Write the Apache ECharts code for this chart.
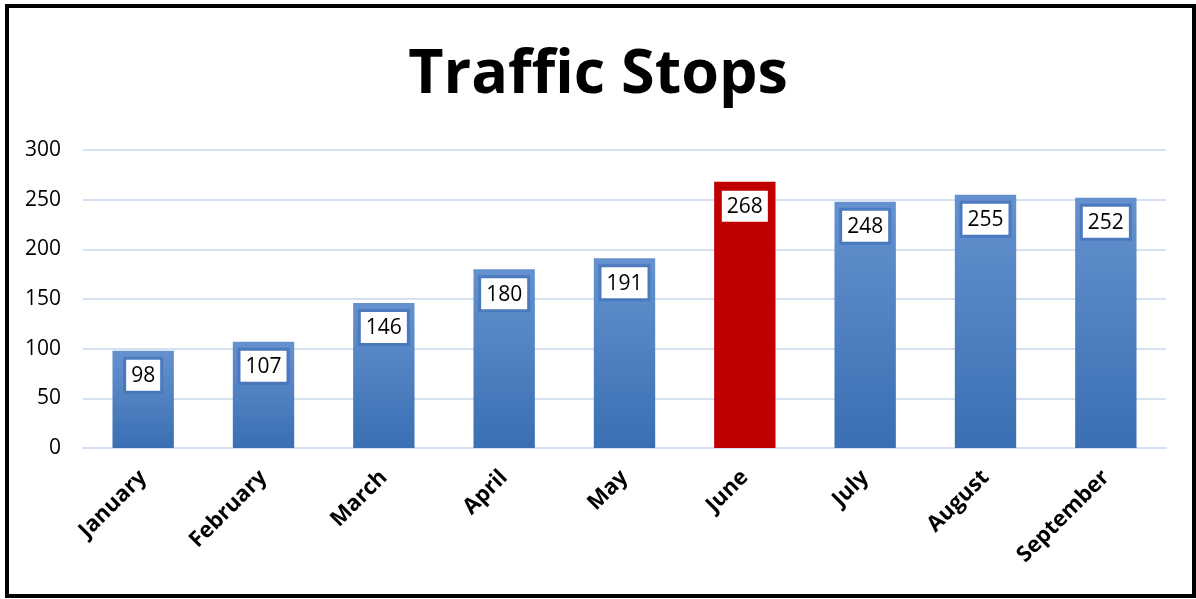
<!DOCTYPE html>
<html>
<head>
<meta charset="utf-8">
<script src="https://cdn.jsdelivr.net/npm/echarts@6/dist/echarts.min.js"></script>
<style>
html,body{margin:0;padding:0;background:#fff;}
#main{width:1196px;height:599px;}
</style>
</head>
<body>
<div id="main"></div>
<script>
var months = ['January','February','March','April','May','June','July','August','September'];
var stops = [98,107,146,180,191,268,248,255,252];
var highlightMonth = 'June';
var yTicks = [0,50,100,150,200,250,300];

var blueFill = new echarts.graphic.LinearGradient(0,0,0,1,[
    {offset:0,color:'#6592cf'},
    {offset:1,color:'#3a6fb3'}
]);

var barData = [];
for(var i=0;i<stops.length;i++){
    var item = {value:stops[i]};
    if(months[i]==highlightMonth){
        item.itemStyle = {color:'#c00000'};
        item.label = {borderWidth:0};
    }
    barData.push(item);
}

var myChart = echarts.init(document.getElementById('main'));
var option = {
    animation:false,
    title:{
        text:'Traffic Stops',
        left:'center',
        top:40,
        textStyle:{fontFamily:'Open Sans',fontWeight:'bold',fontSize:61,color:'#000'}
    },
    graphic:[{
        type:'rect',
        shape:{x:7,y:6,width:1187,height:590},
        style:{fill:'none',stroke:'#000',lineWidth:4},
        silent:true
    }],
    grid:{left:83,right:30,top:150,bottom:151},
    xAxis:{
        type:'category',
        data:months,
        axisLine:{show:true,lineStyle:{color:'#d5e1f0',width:2}},
        axisTick:{show:false},
        axisLabel:{
            rotate:45,
            margin:26,
            interval:0,
            fontFamily:'Open Sans',
            fontWeight:'bold',
            fontSize:22,
            color:'#000'
        }
    },
    yAxis:{
        type:'value',
        min:yTicks[0],
        max:yTicks[yTicks.length-1],
        interval:50,
        axisLine:{show:false},
        axisTick:{show:false},
        splitLine:{lineStyle:{color:'#d5e1f0',width:2}},
        axisLabel:{
            margin:22,
            fontFamily:'Open Sans',
            fontSize:21,
            color:'#000'
        }
    },
    series:[{
        type:'bar',
        data:barData,
        barWidth:'51%',
        itemStyle:{color:blueFill},
        label:{
            show:true,
            position:'insideTop',
            distance:9,
            fontFamily:'Open Sans',
            fontSize:21,
            color:'#000',
            backgroundColor:'#fff',
            borderColor:'rgba(70,115,185,0.75)',
            borderWidth:3,
            padding:[6,5,4,5]
        }
    }]
};
myChart.setOption(option);
</script>
</body>
</html>
